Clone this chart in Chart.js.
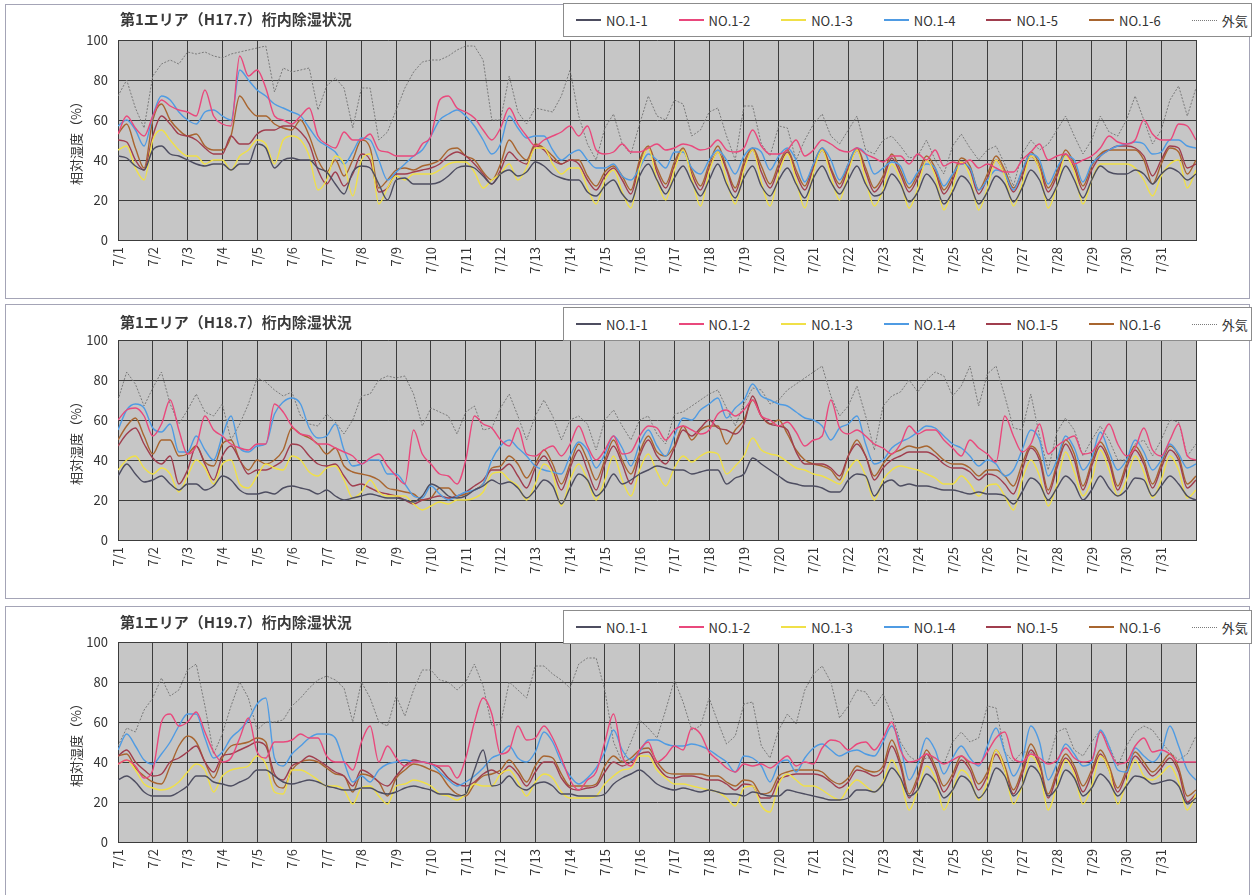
<!DOCTYPE html>
<html><head><meta charset="utf-8">
<script src="https://cdn.jsdelivr.net/npm/chart.js@4.4.1/dist/chart.umd.min.js"></script>
<style>
html,body{margin:0;padding:0;background:#fff;}
body{width:1258px;height:895px;position:relative;overflow:hidden;font-family:"Noto Sans CJK JP","Noto Sans",sans-serif;color:#333;}
.frame{position:absolute;left:5px;width:1245px;height:295px;border:1px solid #a4a4b6;box-sizing:border-box;}
.wrap{position:absolute;left:0;width:1258px;height:294px;}
.wrap canvas{position:absolute;left:0;top:0;}
.title{position:absolute;left:120px;font-size:15px;font-weight:bold;line-height:22px;color:#3a3a3a;white-space:nowrap;}
.legend{position:absolute;left:563px;width:689px;height:34px;box-sizing:border-box;border:1px solid #8c8c8c;background:#fff;display:flex;align-items:center;padding-left:12px;}
.item{display:flex;align-items:center;margin-right:31px;font-size:13px;color:#333;white-space:nowrap;}
.item .ln{display:inline-block;width:25px;height:1.5px;margin-right:5px;}
.item .ln.dot{height:0;border-top:1.5px dotted #7a7a7a;}
</style></head>
<body>
<script>
// ---- categories / labels ----
const SAMPLES_PER_DAY = 4; // readings every 6 hours
const dayLabels = ['7/1','7/2','7/3','7/4','7/5','7/6','7/7','7/8','7/9','7/10','7/11','7/12','7/13','7/14','7/15','7/16','7/17','7/18','7/19','7/20','7/21','7/22','7/23','7/24','7/25','7/26','7/27','7/28','7/29','7/30','7/31'];
const seriesNames = ['NO.1-1','NO.1-2','NO.1-3','NO.1-4','NO.1-5','NO.1-6','外気'];
const panelTitles = ['第1エリア（H17.7）桁内除湿状況','第1エリア（H18.7）桁内除湿状況','第1エリア（H19.7）桁内除湿状況'];
const yAxisTitle = '相対湿度（%）';

// ---- H17.7 ----
const h17_NO1_1 = [
42,41,37,35, 45,47,43,42, 40,38,37,38, 38,35,38,38, 48,46,36,40, 41,40,40,36, 34,28,23,34, 37,36,28,20,
30,31,28,28, 28,29,32,36, 37,36,32,28, 33,35,32,34, 39,37,33,31, 30,30,24,22, 27,30,23,19, 32,38,30,23,
31,37,29,22, 30,38,28,21, 31,37,27,22, 30,36,28,21, 31,37,29,23, 30,37,28,22, 24,33,28,19, 24,33,28,18,
24,32,28,18, 24,32,28,19, 26,35,30,20, 27,37,30,21, 30,37,34,33, 33,35,33,28, 33,36,34,30,
33];
const h17_NO1_2 = [
53,62,56,52, 62,70,67,65, 64,62,75,62, 58,57,92,82, 85,76,62,60, 58,62,66,52, 48,46,54,50, 50,53,45,44,
42,42,42,48, 52,70,72,66, 64,61,55,50, 56,66,58,52, 47,50,52,54, 57,52,57,45, 43,44,48,44, 44,46,48,45,
46,48,47,45, 46,50,45,44, 46,55,47,43, 43,45,50,42, 45,50,48,45, 44,46,43,41, 39,42,42,38, 43,40,45,37,
39,38,40,36, 38,36,34,34, 40,44,48,40, 42,43,38,40, 42,46,52,49, 48,50,60,53, 50,50,58,57,
50];
const h17_NO1_3 = [
45,47,36,30, 50,55,50,45, 42,42,38,40, 40,35,42,45, 50,48,38,50, 52,50,42,25, 30,42,38,22, 40,43,18,26,
32,30,33,33, 33,35,38,39, 39,34,26,30, 33,38,30,36, 46,46,38,33, 36,36,26,18, 30,35,24,16, 36,46,30,20,
35,45,31,17, 34,44,30,18, 35,45,29,17, 33,43,30,16, 34,45,32,20, 34,45,30,17, 25,38,30,16, 26,40,32,15,
26,39,32,15, 26,40,32,17, 28,42,35,16, 27,42,34,18, 30,38,38,38, 38,36,30,22, 32,38,40,26,
35];
const h17_NO1_4 = [
57,60,55,47, 62,72,70,64, 60,58,64,65, 62,60,85,80, 75,72,68,66, 64,62,56,50, 47,44,38,44, 51,50,40,30,
34,38,42,45, 52,60,63,65, 62,57,50,43, 48,62,56,51, 52,52,45,40, 43,45,40,36, 36,38,32,30, 36,43,40,36,
44,44,36,33, 40,45,40,33, 42,46,44,35, 42,46,40,29, 38,46,40,30, 38,46,43,33, 36,39,37,28, 34,38,36,27,
33,38,36,25, 30,35,33,25, 35,43,40,28, 36,42,40,29, 38,42,45,47, 48,49,48,43, 44,50,50,47,
46];
const h17_NO1_5 = [
50,49,40,35, 52,62,58,53, 52,50,46,43, 43,52,48,48, 53,55,55,57, 57,54,48,35, 28,34,27,33, 43,40,24,26,
33,33,34,35, 36,38,42,44, 42,38,33,28, 35,44,40,38, 47,45,40,38, 40,38,30,25, 32,36,30,23, 38,46,34,26,
37,45,33,25, 36,44,35,24, 37,45,34,26, 36,44,33,25, 36,45,35,26, 36,45,34,24, 30,41,33,24, 31,40,34,23,
30,39,35,23, 31,40,33,24, 32,42,36,24, 32,43,36,25, 35,42,45,47, 47,46,42,32, 40,47,46,36,
38];
const h17_NO1_6 = [
53,58,46,36, 60,68,60,55, 52,53,47,45, 45,52,72,66, 62,62,58,56, 55,60,52,40, 34,40,32,40, 50,46,26,30,
35,36,35,37, 38,40,45,46, 42,40,34,30, 38,50,44,40, 48,46,42,38, 40,40,32,27, 34,37,32,25, 40,47,36,28,
39,46,35,27, 38,47,36,26, 39,46,37,28, 38,45,35,27, 38,46,36,28, 38,46,36,26, 32,43,35,26, 33,42,36,25,
32,41,37,25, 33,42,35,26, 34,44,38,26, 34,45,38,27, 37,43,45,45, 45,45,40,28, 38,46,44,33,
40];
const h17_outside = [
72,80,66,56, 82,88,90,88, 94,93,94,92, 91,93,94,95, 96,97,74,86, 84,85,86,65, 77,81,76,56, 76,76,50,54,
65,76,84,89, 90,90,92,95, 97,97,90,60, 60,82,64,58, 66,65,64,72, 85,62,48,40, 56,63,48,43, 58,72,62,60,
70,68,52,55, 64,66,52,40, 67,67,48,42, 57,56,40,50, 58,63,52,48, 55,62,45,43, 50,52,47,41, 42,50,40,33,
47,53,46,40, 45,47,38,27, 43,50,45,48, 55,62,52,43, 50,62,54,52, 60,72,60,48, 55,70,77,62,
76];

// ---- H18.7 ----
const h18_NO1_1 = [
32,38,33,29, 30,32,28,25, 28,28,25,27, 32,30,25,23, 23,24,23,26, 27,26,25,23, 25,22,20,21, 22,23,22,21,
21,20,19,22, 28,26,22,21, 22,25,27,30, 28,29,26,21, 25,30,27,18, 26,33,30,22, 26,33,28,30, 33,35,37,36,
35,35,33,34, 35,35,28,31, 33,41,38,35, 32,29,28,27, 27,26,24,24, 30,33,32,22, 28,30,27,28, 27,27,26,25,
25,24,23,24, 23,23,22,18, 24,31,28,20, 26,32,28,20, 25,32,26,22, 25,31,30,22, 27,32,28,22,
20];
const h18_NO1_2 = [
60,65,66,62, 52,58,70,55, 43,47,62,55, 52,48,46,45, 48,48,68,64, 57,53,52,48, 48,46,44,42, 38,41,43,37,
32,28,55,43, 38,33,32,28, 40,62,58,56, 50,47,56,43, 42,45,47,42, 48,57,47,40, 45,52,43,44, 52,57,56,50,
55,57,55,53, 55,63,65,62, 65,70,62,60, 57,59,54,47, 50,52,70,56, 53,55,52,48, 46,43,48,57, 53,55,55,50,
46,42,50,46, 43,39,62,52, 44,48,58,43, 47,50,52,43, 44,50,58,48, 42,46,56,45, 42,50,58,42,
40];
const h18_NO1_3 = [
35,40,42,36, 33,36,33,24, 32,40,36,28, 38,40,28,26, 32,38,36,35, 42,40,34,32, 36,37,30,21, 24,30,24,22,
22,22,18,15, 17,19,18,20, 20,21,24,33, 34,30,27,20, 28,38,33,17, 30,38,30,20, 30,42,30,22, 35,43,34,27,
36,42,39,42, 44,43,33,37, 42,51,45,43, 42,39,36,35, 33,32,30,28, 35,40,32,20, 30,35,37,36, 35,33,31,28,
28,32,28,22, 27,28,22,15, 30,40,32,17, 28,44,34,22, 30,45,35,22, 30,42,34,21, 30,42,35,21,
25];
const h18_NO1_4 = [
55,65,68,66, 56,54,58,44, 44,52,45,40, 52,62,46,44, 47,48,63,69, 71,68,56,51, 52,58,45,37, 38,40,40,33,
33,28,22,21, 27,23,20,22, 24,25,28,40, 47,50,46,42, 37,35,34,33, 42,49,45,36, 43,52,46,37, 48,55,47,42,
52,61,60,65, 68,71,61,66, 70,78,72,70, 68,67,64,61, 60,57,50,56, 58,62,48,38, 40,46,49,51, 54,57,56,52,
48,46,42,37, 40,38,32,35, 45,55,50,32, 40,52,46,35, 41,54,44,35, 40,50,44,35, 40,48,43,36,
38];
const h18_NO1_5 = [
47,53,56,48, 41,38,42,28, 35,47,38,30, 42,47,40,33, 35,35,37,40, 48,47,42,38, 37,38,32,27, 28,26,24,23,
22,20,18,20, 21,22,21,22, 24,27,30,35, 35,38,32,26, 36,42,35,25, 36,45,35,25, 38,47,38,28, 42,50,42,38,
46,55,52,56, 60,56,55,53, 58,72,62,58, 57,55,44,38, 38,38,36,32, 42,48,42,30, 36,40,42,44, 44,44,42,38,
36,36,34,30, 33,32,28,23, 35,46,40,23, 36,48,40,25, 37,47,39,25, 36,45,38,26, 36,45,40,26,
30];
const h18_NO1_6 = [
50,57,61,52, 43,50,50,42, 43,47,39,37, 48,50,40,35, 40,38,40,45, 56,53,51,48, 43,46,37,34, 33,32,30,26,
25,24,23,20, 21,26,26,22, 23,25,28,36, 37,42,38,31, 38,45,38,28, 38,48,40,30, 40,50,40,33, 44,52,44,42,
47,57,50,55, 57,57,48,55, 60,70,62,58, 60,53,45,40, 38,37,35,30, 42,50,42,32, 38,43,45,47, 46,47,44,40,
38,38,36,32, 35,35,32,27, 38,47,42,25, 38,50,43,27, 39,49,41,27, 38,47,40,28, 38,47,42,28,
32];
const h18_outside = [
70,84,78,67, 76,84,68,58, 65,73,64,62, 68,50,58,68, 81,79,75,72, 74,62,58,57, 63,59,53,60, 72,73,80,82,
81,82,73,57, 66,64,62,53, 64,67,55,56, 66,73,62,50, 62,70,62,50, 60,62,58,45, 60,65,57,50, 60,62,53,48,
63,64,67,70, 73,75,66,57, 68,76,75,68, 70,75,78,81, 84,87,72,62, 67,77,62,45, 67,72,74,80, 74,80,84,82,
72,77,87,67, 83,87,72,56, 55,73,52,35, 54,61,55,42, 50,57,50,40, 40,48,50,42, 50,60,59,42,
48];

// ---- H19.7 ----
const h19_NO1_1 = [
31,33,30,25, 23,23,23,25, 28,33,33,30, 29,28,30,32, 36,36,33,30, 29,30,31,30, 28,27,26,26, 27,27,25,24,
25,27,28,27, 26,24,24,23, 24,36,46,28, 29,33,28,26, 29,30,28,24, 24,23,23,23, 24,29,32,34, 36,33,29,27,
26,27,26,25, 26,25,24,24, 23,25,24,23, 23,26,25,24, 23,22,21,21, 22,26,26,25, 29,37,32,23, 26,34,30,22,
26,33,30,22, 27,37,33,23, 28,38,34,23, 27,36,32,23, 27,34,30,23, 28,33,32,29, 30,31,28,19,
22];
const h19_NO1_2 = [
39,41,38,32, 36,60,64,58, 60,65,55,45, 40,42,52,62, 45,42,50,50, 51,54,52,52, 43,40,40,36, 50,58,40,48,
42,38,40,40, 39,38,38,32, 42,60,72,64, 44,46,58,51, 52,58,52,42, 31,26,31,35, 50,64,43,38, 46,50,40,43,
48,46,57,54, 45,41,37,35, 39,38,39,37, 40,43,38,40, 39,47,51,50, 46,49,50,46, 52,60,46,40, 41,44,42,39,
41,43,40,39, 45,52,55,42, 40,44,42,39, 41,47,42,40, 41,55,46,39, 40,48,52,45, 46,44,40,40,
40];
const h19_NO1_3 = [
39,41,36,29, 27,26,27,30, 35,39,36,25, 33,36,37,38, 43,39,25,24, 36,36,34,31, 28,28,26,19, 27,28,23,19,
28,29,31,30, 28,24,23,21, 24,29,28,28, 34,36,30,23, 30,34,32,25, 22,22,22,23, 29,33,36,37, 43,43,36,32,
29,29,28,27, 26,25,22,18, 27,28,18,15, 29,34,31,28, 28,26,23,21, 27,31,28,25, 30,41,32,16, 26,38,32,16,
26,36,32,21, 30,46,36,19, 28,43,36,16, 28,41,34,19, 28,43,36,19, 30,41,33,31, 34,38,30,16,
24];
const h19_NO1_4 = [
46,54,48,41, 39,44,50,58, 64,64,52,42, 45,52,56,61, 69,72,42,38, 44,48,52,54, 54,52,40,30, 33,30,36,39,
40,41,40,40, 39,35,31,28, 30,33,37,42, 44,48,42,40, 45,55,50,40, 33,29,32,37, 45,56,46,41, 45,51,51,49,
48,48,49,48, 46,43,40,35, 43,42,38,30, 39,41,35,42, 47,49,46,43, 45,46,44,43, 50,58,48,31, 39,52,46,34,
42,48,42,38, 48,57,45,33, 41,58,50,31, 39,49,44,38, 40,56,48,36, 35,47,43,40, 45,58,48,36,
31];
const h19_NO1_5 = [
43,46,40,36, 33,34,40,42, 45,48,40,35, 43,44,46,48, 50,48,34,31, 38,40,43,41, 38,35,33,28, 36,34,30,28,
33,38,41,40, 39,37,32,29, 28,30,34,36, 34,38,34,28, 35,40,40,32, 27,26,27,28, 35,40,38,40, 44,45,38,33,
32,33,33,32, 31,31,29,26, 29,28,22,22, 31,33,34,34, 34,33,30,27, 30,36,35,33, 36,48,38,22, 31,44,36,25,
32,41,36,26, 33,44,36,24, 34,46,38,22, 33,42,36,25, 34,44,36,25, 34,43,38,33, 37,42,35,20,
24];
const h19_NO1_6 = [
43,44,37,33, 30,29,38,48, 53,50,40,32, 42,48,49,50, 52,50,30,27, 36,40,41,40, 37,34,33,25, 34,33,30,23,
32,36,39,38, 36,34,28,24, 23,29,33,34, 36,41,36,30, 38,43,42,34, 28,28,28,29, 38,43,40,42, 46,47,40,35,
34,34,34,34, 33,33,30,28, 31,30,24,25, 33,35,36,36, 36,35,31,29, 32,38,36,35, 38,51,40,24, 33,46,38,28,
34,43,38,29, 35,46,38,26, 36,49,40,24, 35,44,38,28, 36,46,38,27, 36,45,40,35, 39,44,37,23,
26];
const h19_outside = [
48,57,55,66, 72,82,73,76, 86,89,68,44, 54,68,80,72, 56,60,60,61, 68,72,77,81, 83,81,77,60, 80,72,60,58,
73,63,76,86, 86,81,80,76, 80,89,78,58, 59,80,76,72, 88,88,84,81, 77,89,92,92, 76,50,40,50, 61,57,52,66,
81,70,56,58, 72,60,49,53, 69,70,48,42, 56,64,59,76, 84,88,80,62, 68,76,75,68, 74,64,50,43, 40,42,42,39,
50,55,50,52, 68,67,45,40, 45,45,40,40, 55,57,46,43, 50,56,48,38, 48,55,58,56, 50,45,41,44,
53];

// ---- assembly ----
const panelSeries = [
  [h17_NO1_1, h17_NO1_2, h17_NO1_3, h17_NO1_4, h17_NO1_5, h17_NO1_6, h17_outside],
  [h18_NO1_1, h18_NO1_2, h18_NO1_3, h18_NO1_4, h18_NO1_5, h18_NO1_6, h18_outside],
  [h19_NO1_1, h19_NO1_2, h19_NO1_3, h19_NO1_4, h19_NO1_5, h19_NO1_6, h19_outside]
];

// ---- styles / layout (kept separate from data) ----
const seriesColors = ['#4d4d60','#e9487c','#f0e048','#4f9be3','#a03e4e','#a8652f','#7a7a7a'];
const FONT = '"Noto Sans CJK JP","Noto Sans",sans-serif';
const panelTops = [4, 304, 606];
const legendOffsets = [-1, 3, 4];
const titleOffsets = [4, 7, 5];

const plotBg = {
  id: 'plotBg',
  beforeDraw(chart) {
    const {ctx, chartArea: {left, top, width, height}} = chart;
    ctx.save();
    ctx.fillStyle = '#c6c6c6';
    ctx.fillRect(left, top, width, height);
    ctx.restore();
  }
};

const htmlLegend = {
  id: 'htmlLegend',
  afterUpdate(chart, args, opts) {
    const box = opts.container;
    if (!box || box.dataset.done) return;
    box.dataset.done = '1';
    chart.data.datasets.forEach(ds => {
      const item = document.createElement('div');
      item.className = 'item';
      const ln = document.createElement('span');
      const dotted = ds.borderDash && ds.borderDash.length;
      ln.className = dotted ? 'ln dot' : 'ln';
      if (!dotted) ln.style.background = ds.borderColor;
      const tx = document.createElement('span');
      tx.textContent = ds.label;
      item.appendChild(ln); item.appendChild(tx);
      box.appendChild(item);
    });
  }
};

panelSeries.forEach((series, p) => {
  const top = panelTops[p];
  const frame = document.createElement('div');
  frame.className = 'frame';
  frame.style.top = top + 'px';
  document.body.appendChild(frame);

  const wrap = document.createElement('div');
  wrap.className = 'wrap';
  wrap.style.top = top + 'px';
  const canvas = document.createElement('canvas');
  canvas.width = 1258; canvas.height = 294;
  wrap.appendChild(canvas);
  const title = document.createElement('div');
  title.className = 'title';
  title.style.top = titleOffsets[p] + 'px';
  title.textContent = panelTitles[p];
  wrap.appendChild(title);
  const legend = document.createElement('div');
  legend.className = 'legend';
  legend.style.top = legendOffsets[p] + 'px';
  wrap.appendChild(legend);
  document.body.appendChild(wrap);

  const datasets = series.map((arr, k) => ({
    label: seriesNames[k],
    data: arr.map((v, i) => ({x: i / SAMPLES_PER_DAY, y: v})),
    borderColor: seriesColors[k],
    backgroundColor: seriesColors[k],
    borderWidth: k === 6 ? 1 : 1.4,
    borderDash: k === 6 ? [2, 1.5] : [],
    pointRadius: 0,
    fill: false,
    tension: k === 6 ? 0 : 0.4,
    cubicInterpolationMode: k === 6 ? 'default' : 'monotone',
    order: k === 6 ? 10 : k
  }));

  new Chart(canvas, {
    type: 'line',
    data: {datasets},
    options: {
      responsive: false,
      animation: false,
      devicePixelRatio: 1,
      layout: {padding: {top: 36, right: 62, left: 64, bottom: 0}},
      plugins: {
        legend: {display: false},
        title: {display: false},
        tooltip: {enabled: false},
        htmlLegend: {container: legend}
      },
      scales: {
        x: {
          type: 'linear', min: 0, max: 31,
          afterFit(s) { s.height = 58; },
          ticks: {
            stepSize: 1, autoSkip: false, minRotation: 90, maxRotation: 90, padding: 7,
            color: '#333', font: {family: FONT, size: 13},
            callback: (v) => (dayLabels[v] !== undefined ? dayLabels[v] : '')
          },
          grid: {color: '#3c3c3c', lineWidth: 1, drawTicks: false},
          border: {color: '#3c3c3c'}
        },
        y: {
          min: 0, max: 100,
          afterFit(s) { s.width = 54; },
          ticks: {stepSize: 20, padding: 10, color: '#333', font: {family: FONT, size: 13}},
          grid: {color: '#3c3c3c', lineWidth: 1, drawTicks: false},
          border: {color: '#3c3c3c'},
          title: {display: true, text: yAxisTitle, color: '#333', font: {family: FONT, size: 13}}
        }
      }
    },
    plugins: [plotBg, htmlLegend]
  });
});
</script>
</body></html>
